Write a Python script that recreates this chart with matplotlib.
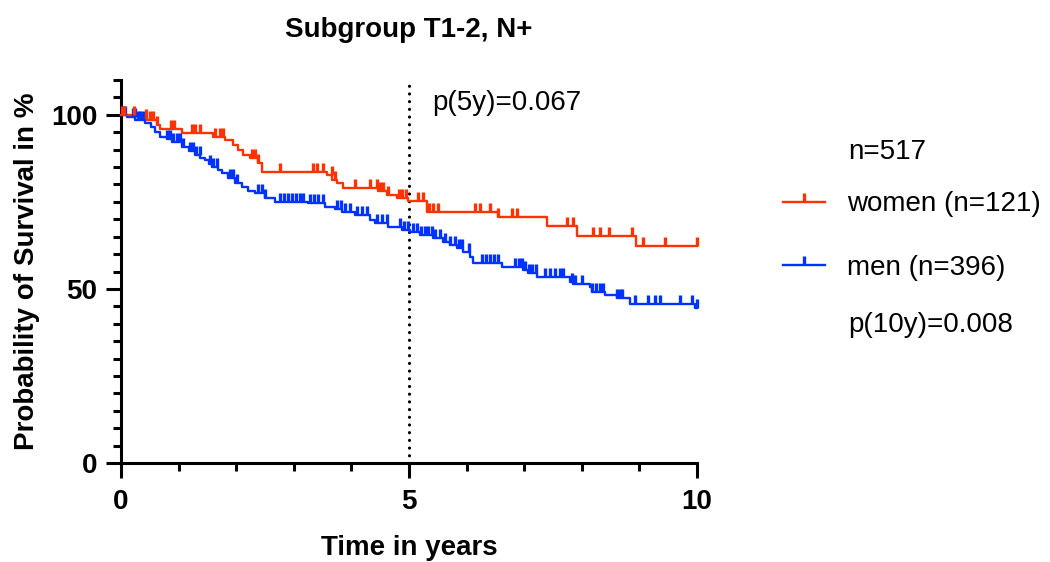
import numpy as np
import matplotlib
matplotlib.use('Agg')
import matplotlib.pyplot as plt
from matplotlib.lines import Line2D

plt.rcParams['font.family'] = ['Liberation Sans', 'DejaVu Sans']

RED  = '#FF3300'
BLUE = '#0033FF'

# Kaplan-Meier steps: event time (years) and survival (%) after the event
women_t = [0, 0.3, 0.45, 0.62, 0.68, 1.06, 1.6, 1.8, 1.95, 2.03,
           2.12, 2.24, 2.38, 2.45, 3.58, 3.67, 3.75, 3.85, 4.46, 4.62,
           4.8, 4.98, 5.31, 6.55, 7.4, 7.92, 8.94]
women_s = [100, 99.1, 98.6, 97.1, 96.0, 94.8, 93.7, 92.8, 91.4, 89.9,
           88.5, 87.6, 86.3, 83.6, 82.8, 81.3, 80.5, 79.0, 78.2, 77.0,
           76.1, 75.3, 72.1, 70.7, 68.1, 65.2, 62.4]
women_cens = [0.02, 0.05, 0.22, 0.44, 0.5, 0.56, 0.62, 0.86, 0.92, 1.23,
              1.28, 1.37, 1.63, 1.72, 1.77, 2.28, 2.33, 2.38, 2.76, 3.33,
              3.40, 3.51, 3.66, 3.72, 4.06, 4.32, 4.44, 4.5, 4.55, 4.64,
              4.82, 4.88, 4.95, 5.16, 5.24, 5.35, 5.42, 5.5, 6.15, 6.23,
              6.41, 6.55, 6.79, 6.88, 7.74, 7.85, 8.19, 8.32, 8.47, 8.87,
              9.06, 9.44, 10.0]

men_t = [0, 0.1, 0.25, 0.42, 0.52, 0.59, 0.68, 0.8, 0.89, 1.06,
         1.18, 1.28, 1.38, 1.46, 1.52, 1.58, 1.68, 1.75, 1.86, 1.98,
         2.1, 2.2, 2.33, 2.5, 2.67, 3.25, 3.54, 3.72, 3.84, 4.06,
         4.32, 4.41, 4.64, 4.88, 5.02, 5.19, 5.42, 5.59, 5.71, 5.83,
         5.94, 6.06, 6.11, 6.61, 6.98, 7.07, 7.22, 7.8, 7.85, 8.14,
         8.18, 8.4, 8.61, 8.84, 9.97]
men_s = [100, 99.3, 98.5, 97.7, 96.5, 95.1, 93.7, 93.0, 92.2, 90.8,
         89.6, 88.5, 87.7, 87.0, 86.0, 85.0, 84.2, 83.4, 81.9, 80.5,
         79.3, 78.2, 77.6, 76.1, 75.0, 74.6, 73.6, 73.0, 72.1, 71.3,
         69.8, 69.0, 67.8, 67.0, 66.4, 65.5, 64.7, 63.5, 62.6, 61.8,
         60.6, 59.2, 57.5, 56.3, 55.5, 54.6, 53.4, 52.0, 51.4, 50.6,
         49.1, 48.3, 47.4, 45.7, 44.5]
men_cens = [0.03, 0.07, 0.21, 0.24, 0.30, 0.33, 0.38, 0.80, 0.85, 0.90,
            0.97, 1.02, 1.08, 1.20, 1.25, 1.30, 1.37, 1.55, 1.60, 1.67,
            1.89, 1.94, 2.01, 2.38, 2.45, 2.50, 2.76, 2.83, 2.90, 2.97,
            3.04, 3.11, 3.16, 3.28, 3.35, 3.42, 3.51, 3.75, 3.82, 3.89,
            3.98, 4.10, 4.18, 4.27, 4.44, 4.53, 4.62, 4.84, 4.91, 4.98,
            5.07, 5.14, 5.21, 5.28, 5.33, 5.40, 5.45, 5.54, 5.63, 5.71,
            5.80, 5.87, 5.92, 6.04, 6.27, 6.34, 6.41, 6.48, 6.55, 6.84,
            6.91, 6.96, 7.01, 7.08, 7.14, 7.20, 7.36, 7.45, 7.53, 7.62,
            7.67, 7.83, 7.88, 8.00, 8.18, 8.25, 8.32, 8.37, 8.61, 8.66,
            8.70, 8.92, 9.15, 9.27, 9.36, 9.70, 9.91, 10.0]

FOLLOW_UP = 10.0
labels = ['women (n=121)', 'men (n=396)']

LW, MS, MEW = 1.7, 6.5, 2.4


def draw_km(ax, t, s, cens, color):
    t = np.append(t, FOLLOW_UP)
    s = np.append(s, s[-1])
    ax.step(t, s, where='post', color=color, lw=LW, zorder=3, clip_on=False)
    # censor marks sit on the curve
    idx = np.searchsorted(t, cens, side='right') - 1
    ax.plot(cens, s[idx], ls='none', marker=2, ms=MS, mew=MEW,
            color=color, zorder=4, clip_on=False)


def main():
    fig = plt.figure(figsize=(10.5, 5.62), dpi=100)
    ax = fig.add_axes([121 / 1050, 1 - 463 / 562, 576 / 1050, 383 / 562])

    draw_km(ax, men_t, men_s, men_cens, BLUE)
    draw_km(ax, women_t, women_s, women_cens, RED)

    ax.axvline(5, ymin=0, ymax=1, color='black', lw=2.3, zorder=2,
               ls=(0, (0.01, 2.4)), dash_capstyle='round')
    ax.text(5.4, 103.5, 'p(5y)=0.067', fontsize=20, va='center', ha='left')

    ax.set_xlim(0, 10)
    ax.set_ylim(0, 110)
    ax.set_xticks([0, 5, 10])
    ax.set_xticks(np.arange(0, 11, 1), minor=True)
    ax.set_yticks([0, 50, 100])
    ax.set_yticks(np.arange(0, 111, 5), minor=True)

    for lab in ax.get_xticklabels() + ax.get_yticklabels():
        lab.set_fontweight('bold')
    ax.tick_params(which='major', length=11, width=2.2, labelsize=20)
    ax.tick_params(axis='x', which='major', pad=8)
    ax.tick_params(axis='y', which='major', pad=6)
    ax.tick_params(which='minor', length=6, width=2.2)

    for sp in ['top', 'right']:
        ax.spines[sp].set_visible(False)
    for sp in ['left', 'bottom']:
        ax.spines[sp].set_linewidth(2.2)

    ax.set_xlabel('Time in years', fontsize=20, fontweight='bold', labelpad=14)
    ax.set_ylabel('Probability of Survival in %', fontsize=20,
                  fontweight='bold', labelpad=8)
    ax.set_title('Subgroup T1-2, N+', fontsize=20, fontweight='bold', pad=31)

    handles = [Line2D([], [], color=RED, lw=LW, marker=2, ms=MS, mew=MEW),
               Line2D([], [], color=BLUE, lw=LW, marker=2, ms=MS, mew=MEW)]
    fig.legend(handles, labels, loc='center left',
               bbox_to_anchor=(783 / 1050, 1 - 236 / 562), frameon=False,
               fontsize=20, handlelength=1.5, handletextpad=0.8,
               labelspacing=1.35, numpoints=1, borderpad=0, borderaxespad=0)
    fig.text(848 / 1050, 1 - 152 / 562, 'n=517', fontsize=20, va='center')
    fig.text(848 / 1050, 1 - 325 / 562, 'p(10y)=0.008', fontsize=20, va='center')

    fig.savefig('out.png', dpi=100)
    plt.close(fig)


if __name__ == "__main__":
    main()
